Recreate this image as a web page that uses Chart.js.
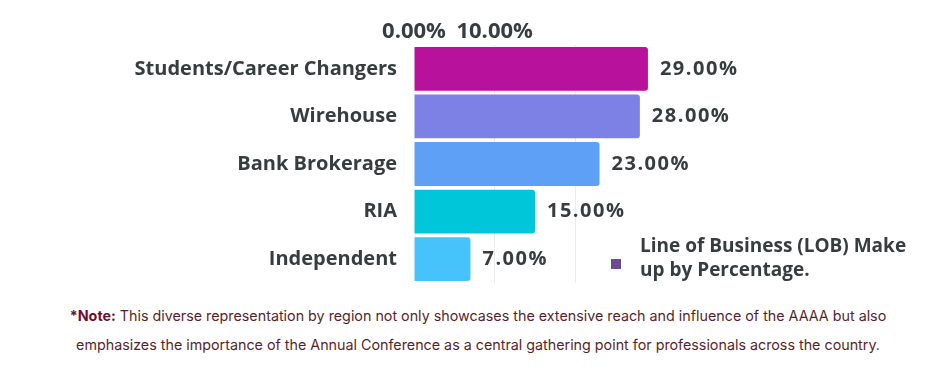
<!DOCTYPE html>
<html>
<head>
<meta charset="utf-8">
<script src="https://cdn.jsdelivr.net/npm/chart.js@4.4.1/dist/chart.umd.min.js"></script>
<style>
  html, body { margin: 0; padding: 0; background: #ffffff; }
  #wrap { position: relative; width: 934px; height: 300px; }
  #note {
    width: 934px; box-sizing: border-box; padding-left: 22px;
    text-align: center; font-family: Inter, "Noto Sans", sans-serif;
    font-size: 14.3px; line-height: 29px; color: #5a1f2c; margin-top: 1px;
  }
  #note b { color: #6b0f2e; }
</style>
</head>
<body>
<div id="wrap"><canvas id="c"></canvas></div>
<div id="note"><b>*Note:</b> This diverse representation by region not only showcases the extensive reach and influence of the AAAA but also<br>emphasizes the importance of the Annual Conference as a central gathering point for professionals across the country.</div>
<script>
const categories = ["Students/Career Changers", "Wirehouse", "Bank Brokerage", "RIA", "Independent"];
const values = [29, 28, 23, 15, 7];
const barColors = ["#b8129c", "#7d80e4", "#5fa0f7", "#00c6d9", "#47c3fb"];
const xTickLabels = ["0.00%", "10.00%", "", ""];
const legendLines = ["Line of Business (LOB) Make", "up by Percentage."];
const legendColor = "#6a4c93";
const xMax = 30;

const textColor = "#373d3f";
const fontFam = "'Open Sans', 'DejaVu Sans', sans-serif";

const valueLabels = {
  id: 'valueLabels',
  afterDatasetsDraw(chart) {
    const ctx = chart.ctx;
    const meta = chart.getDatasetMeta(0);
    ctx.save();
    ctx.font = "bold 20px " + fontFam;
    ctx.letterSpacing = "1.5px";
    ctx.fillStyle = textColor;
    ctx.textAlign = "left";
    ctx.textBaseline = "middle";
    meta.data.forEach((el, i) => {
      ctx.fillText(values[i].toFixed(2) + "%", el.x + 12, el.y);
    });
    ctx.restore();
  }
};

const customLegend = {
  id: 'customLegend',
  afterDraw(chart) {
    const ctx = chart.ctx;
    ctx.save();
    ctx.fillStyle = legendColor;
    ctx.fillRect(611, 259, 10, 10);
    ctx.font = "bold 19px " + fontFam;
    ctx.fillStyle = textColor;
    ctx.textAlign = "left";
    ctx.textBaseline = "middle";
    ctx.fillText(legendLines[0], 640, 247);
    ctx.fillText(legendLines[1], 640, 271);
    ctx.restore();
  }
};

new Chart(document.getElementById('c'), {
  type: 'bar',
  data: {
    labels: categories,
    datasets: [{
      label: legendLines.join(' '),
      data: values,
      backgroundColor: barColors,
      borderRadius: 3,
      borderSkipped: 'start',
      barPercentage: 0.92,
      categoryPercentage: 1.0
    }]
  },
  options: {
    indexAxis: 'y',
    responsive: true,
    maintainAspectRatio: false,
    animation: false,
    layout: { padding: { left: 0, right: 278, top: 0, bottom: 17 } },
    plugins: {
      legend: { display: false },
      tooltip: { enabled: false }
    },
    scales: {
      x: {
        position: 'top',
        min: 0,
        max: xMax,
        border: { display: false },
        grid: {
          drawTicks: false,
          color: (c) => (c.tick && (c.tick.value === 0 || c.tick.value >= xMax)) ? 'rgba(0,0,0,0)' : '#ebebeb'
        },
        ticks: {
          stepSize: 10,
          padding: 0,
          maxRotation: 0,
          autoSkip: false,
          color: textColor,
          font: { family: fontFam, size: 22, weight: 'bold' },
          callback: (v, i) => xTickLabels[i]
        },
        afterFit: (s) => { s.height = 45; s.paddingLeft = 0; s.paddingRight = 0; }
      },
      y: {
        border: { display: false },
        grid: { display: false, drawTicks: false },
        ticks: {
          padding: 17,
          color: textColor,
          font: { family: fontFam, size: 20, weight: 'bold' }
        },
        afterFit: (s) => { s.width = 414; s.paddingTop = 0; s.paddingBottom = 0; }
      }
    }
  },
  plugins: [valueLabels, customLegend]
});
</script>
</body>
</html>
